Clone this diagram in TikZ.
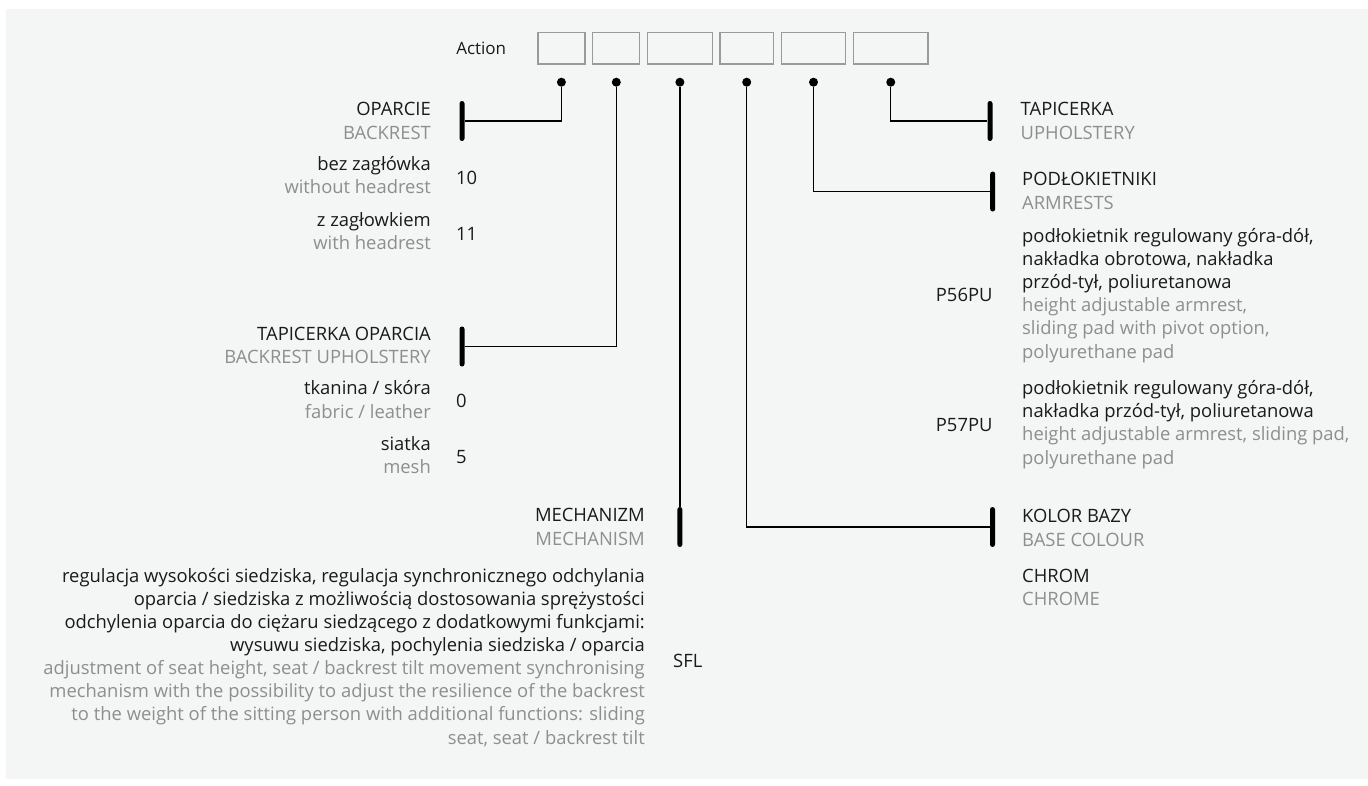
\documentclass[tikz,border=0pt]{standalone}
\usepackage{fontspec}
\setmainfont{Open Sans}
\usetikzlibrary{calc,positioning}

\definecolor{panel}{HTML}{F4F5F5}
\definecolor{txtgray}{HTML}{8E8E8E}
\definecolor{txtblack}{HTML}{1A1A1A}
\definecolor{slotgray}{HTML}{9A9A9A}
\newcommand{\gy}{\color{txtgray}}

\tikzset{
  txt/.style={inner sep=0, text=txtblack, font=\fontsize{18.4}{23.1}\selectfont},
  lefttxt/.style={txt, align=right, anchor=base east},
  righttxt/.style={txt, align=left, anchor=base west},
  slot/.style={draw=slotgray, line width=1.2pt, minimum height=31.6pt, inner sep=0},
  dot/.style={circle, fill=black, inner sep=0, minimum size=9pt},
  bar/.style={rectangle, rounded corners=2.5pt, fill=black, inner sep=0, minimum width=5pt, minimum height=40pt},
  conn/.style={line width=1.3pt}
}

\begin{document}
\begin{tikzpicture}[x=1pt, y=-1pt]
        \useasboundingbox (0,0) rectangle (1368,785);
        \fill[panel] (6,9) rectangle (1368,779);

        % code slots
        \node[slot, minimum width=47pt, anchor=north west] (s1) at (537.3,31.7) {};
        \node[slot, minimum width=47pt, right=6.7pt of s1] (s2) {};
        \node[slot, minimum width=64.4pt, right=6.7pt of s2] (s3) {};
        \node[slot, minimum width=53.4pt, right=6.7pt of s3] (s4) {};
        \node[slot, minimum width=64.4pt, right=6.7pt of s4] (s5) {};
        \node[slot, minimum width=74.3pt, right=6.7pt of s5] (s6) {};
        \node[txt, font=\fontsize{17}{20}\selectfont, left=31pt of s1] (act) {Action};

        \node[dot, below=13pt of s1] (d1) {};
        \node[dot, below=13pt of s2] (d2) {};
        \node[dot, below=13pt of s3] (d3) {};
        \node[dot, below=13pt of s4] (d4) {};
        \node[dot, below=13pt of s5] (d5) {};
        \node[dot, below=13pt of s6] (d6) {};

        % bars
        \node[bar] (bOparcie) at (462,121) {};
        \node[bar] (bTapOparcia) at (462,346.5) {};
        \node[bar] (bMech) at (d3 |- 0,527) {};
        \node[bar] (bTap) at (990,121) {};
        \node[bar] (bPodl) at (992.7,191.5) {};
        \node[bar] (bKolor) at (992.5,527) {};

        \draw[conn] (d1) |- (bOparcie);
        \draw[conn] (d2) |- (bTapOparcia);
        \draw[conn] (d3) -- (bMech);
        \draw[conn] (d4) |- (bKolor);
        \draw[conn] (d5) |- (bPodl);
        \draw[conn] (d6) |- (bTap);

        % left side (base = last line)
        \node[lefttxt] (hOparcie) at (431,139) {OPARCIE\\\gy BACKREST};
        \node[lefttxt] (o10) at (431,193.3) {bez zagłówka\\\gy without headrest};
        \node[txt, anchor=base west] (c10) at (456,184.3) {10};
        \node[lefttxt] (o11) at (431,249.3) {z zagłowkiem\\\gy with headrest};
        \node[txt, anchor=base west] (c11) at (456,240.6) {11};

        \node[lefttxt] (hTapOparcia) at (431,363.5) {TAPICERKA OPARCIA\\\gy BACKREST UPHOLSTERY};
        \node[lefttxt] (o0) at (431,418) {tkanina / skóra\\\gy fabric / leather};
        \node[txt, anchor=base west] (c0) at (456,407.3) {0};
        \node[lefttxt] (o5) at (431,473.3) {siatka\\\gy mesh};
        \node[txt, anchor=base west] (c5) at (456,463.3) {5};

        \node[lefttxt] (hMech) at (645,545) {MECHANIZM\\\gy MECHANISM};
        \node[lefttxt] (oSFL) at (645,744) {regulacja wysokości siedziska, regulacja synchronicznego odchylania\\
          oparcia / siedziska z możliwością dostosowania sprężystości\\
          odchylenia oparcia do ciężaru siedzącego z dodatkowymi funkcjami:\\
          wysuwu siedziska, pochylenia siedziska / oparcia\\
          \gy adjustment of seat height, seat / backrest tilt movement synchronising\\
          \gy mechanism with the possibility to adjust the resilience of the backrest\\
          \gy to the weight of the sitting person with additional functions: sliding\\
          \gy seat, seat / backrest tilt};
        \node[txt, anchor=base west] (cSFL) at (673,667.3) {SFL};

        % right side
        \node[righttxt] (hTap) at (1020.5,139) {TAPICERKA\\\gy UPHOLSTERY};
        \node[righttxt] (hPodl) at (1022,209) {PODŁOKIETNIKI\\\gy ARMRESTS};
        \node[righttxt] (oP56) at (1022,358) {podłokietnik regulowany góra-dół,\\
          nakładka obrotowa, nakładka\\
          przód-tył, poliuretanowa\\
          \gy height adjustable armrest,\\
          \gy sliding pad with pivot option,\\
          \gy polyurethane pad};
        \node[txt, anchor=base east] (cP56) at (992.7,301.6) {P56PU};
        \node[righttxt] (oP57) at (1022,464) {podłokietnik regulowany góra-dół,\\
          nakładka przód-tył, poliuretanowa\\
          \gy height adjustable armrest, sliding pad,\\
          \gy polyurethane pad};
        \node[txt, anchor=base east] (cP57) at (992.7,431.6) {P57PU};

        \node[righttxt] (hKolor) at (1022,546) {KOLOR BAZY\\\gy BASE COLOUR};
        \node[righttxt] (oChrom) at (1022,605.5) {CHROM\\\gy CHROME};
\end{tikzpicture}
\end{document}
